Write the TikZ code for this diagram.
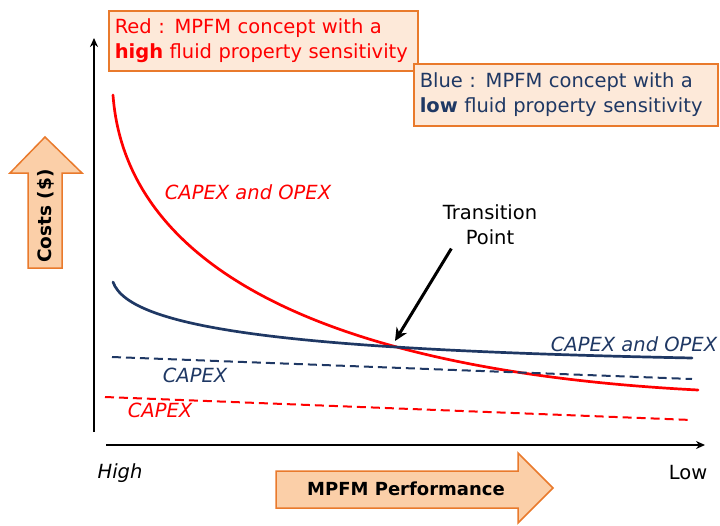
\documentclass[tikz,border=0pt]{standalone}
\usepackage{fontspec}
\setmainfont{DejaVu Sans}
\usepackage{tikz}
\usetikzlibrary{arrows.meta, positioning}

\definecolor{redc}{HTML}{FF0000}
\definecolor{navy}{HTML}{1F3864}
\definecolor{peach}{HTML}{FDE9D9}
\definecolor{peachdk}{HTML}{FBCFA8}
\definecolor{orangec}{HTML}{E97A2C}

\begin{document}
\begin{tikzpicture}[x=1pt, y=-1pt]
\tikzstyle{note}=[draw=orangec, fill=peach, line width=1.5pt, align=left, anchor=north west, inner xsep=6pt, font=\fontsize{19.5}{25}\selectfont]
\tikzstyle{fat}=[draw=orangec, fill=peachdk, line width=1.5pt, line join=miter]
\tikzstyle{lbl}=[font=\fontsize{19.5}{25}\selectfont]
\tikzstyle{ilbl}=[font=\fontsize{19.5}{25}\selectfont\itshape]
\tikzstyle{curve}=[line width=2.7pt, line cap=round]
\tikzstyle{capex}=[line width=2pt, dash pattern=on 9pt off 5pt]
\useasboundingbox (0,0) rectangle (720,525);
% axes
\coordinate (o1) at (94,432);
\coordinate (yt) at (94,38);
\coordinate (o2) at (106,445);
\coordinate (xt) at (705,445);
\draw[line width=1.5pt, -{Stealth[length=9pt,width=8pt]}] (o1) -- (yt);
\draw[line width=1.5pt, -{Stealth[length=9pt,width=8pt]}] (o2) -- (xt);
% legend boxes
\node[note, text=redc, text width=297pt, minimum height=60pt] (red) at (108,10)
  {Red : MPFM concept with a\\\textbf{high} fluid property sensitivity};
\node[note, text=navy, text width=292pt, minimum height=62pt] (blue) at (413,63)
  {Blue : MPFM concept with a\\\textbf{low} fluid property sensitivity};
% big arrows
\draw[fat] (28,268) -- (28,173) -- (10,173) -- (45,137) -- (82,173) -- (62,173) -- (62,268) -- cycle;
\node[rotate=90, font=\fontsize{18.5}{20}\selectfont\bfseries] (cost) at (46,216) {Costs (\$)};
\draw[fat] (276,471) -- (518,471) -- (518,453) -- (553,488) -- (518,523) -- (518,508) -- (276,508) -- cycle;
\node[font=\fontsize{18}{20}\selectfont\bfseries] (perf) at (406,489) {MPFM Performance};
% curves
\draw[curve, redc] (113,95) .. controls (125,260) and (310,370) .. (698,390);
\draw[curve, navy] (113,282) .. controls (130,330) and (300,350) .. (692,358);
\draw[capex, navy] (112,357) -- (692,379);
\draw[capex, redc] (105,397) -- (692,420);
% labels
\node[ilbl, text=redc] (r1) at (248,192) {CAPEX and OPEX};
\node[ilbl, text=navy] (b1) at (634,344) {CAPEX and OPEX};
\node[ilbl, text=navy] (b2) at (195,375) {CAPEX};
\node[ilbl, text=redc] (r2) at (160,410) {CAPEX};
\node[lbl, align=center] (tr) at (490,225) {Transition\\Point};
\coordinate (tp) at (395,341);
\draw[line width=3pt, -{Stealth[length=13pt,width=12pt]}] ([xshift=12pt]tr.south west) -- (tp);
\node[ilbl] (hi) at (120,473) {High};
\node[lbl] (lo) at (688,473) {Low};
\end{tikzpicture}
\end{document}
